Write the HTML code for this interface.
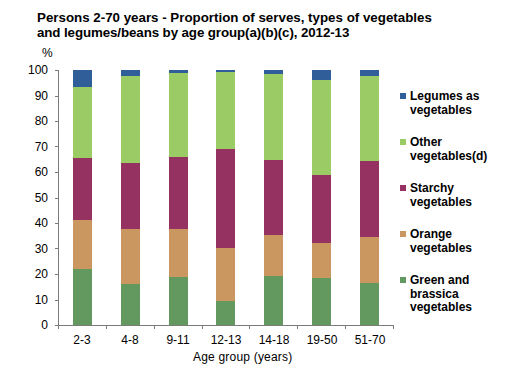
<!DOCTYPE html>
<html><head><meta charset="utf-8"><style>
html,body{margin:0;padding:0;background:#fff;width:509px;height:377px;overflow:hidden}
#c{position:relative;width:509px;height:377px}
#c div{position:absolute}
.t{font-family:"Liberation Sans",sans-serif;color:#000;white-space:nowrap;line-height:15px}
</style></head><body><div id="c">
<div style="left:73px;top:70px;width:19px;height:17px;background:#2F5E99"></div><div style="left:73px;top:87px;width:19px;height:71px;background:#9BCB64"></div><div style="left:73px;top:158px;width:19px;height:62px;background:#963262"></div><div style="left:73px;top:220px;width:19px;height:49px;background:#C9975F"></div><div style="left:73px;top:269px;width:19px;height:56px;background:#63985F"></div><div style="left:121px;top:70px;width:19px;height:6px;background:#2F5E99"></div><div style="left:121px;top:76px;width:19px;height:87px;background:#9BCB64"></div><div style="left:121px;top:163px;width:19px;height:66px;background:#963262"></div><div style="left:121px;top:229px;width:19px;height:55px;background:#C9975F"></div><div style="left:121px;top:284px;width:19px;height:41px;background:#63985F"></div><div style="left:169px;top:70px;width:19px;height:3px;background:#2F5E99"></div><div style="left:169px;top:73px;width:19px;height:84px;background:#9BCB64"></div><div style="left:169px;top:157px;width:19px;height:72px;background:#963262"></div><div style="left:169px;top:229px;width:19px;height:48px;background:#C9975F"></div><div style="left:169px;top:277px;width:19px;height:48px;background:#63985F"></div><div style="left:216px;top:70px;width:19px;height:2px;background:#2F5E99"></div><div style="left:216px;top:72px;width:19px;height:77px;background:#9BCB64"></div><div style="left:216px;top:149px;width:19px;height:99px;background:#963262"></div><div style="left:216px;top:248px;width:19px;height:53px;background:#C9975F"></div><div style="left:216px;top:301px;width:19px;height:24px;background:#63985F"></div><div style="left:264px;top:70px;width:19px;height:4px;background:#2F5E99"></div><div style="left:264px;top:74px;width:19px;height:86px;background:#9BCB64"></div><div style="left:264px;top:160px;width:19px;height:75px;background:#963262"></div><div style="left:264px;top:235px;width:19px;height:41px;background:#C9975F"></div><div style="left:264px;top:276px;width:19px;height:49px;background:#63985F"></div><div style="left:312px;top:70px;width:19px;height:10px;background:#2F5E99"></div><div style="left:312px;top:80px;width:19px;height:95px;background:#9BCB64"></div><div style="left:312px;top:175px;width:19px;height:68px;background:#963262"></div><div style="left:312px;top:243px;width:19px;height:35px;background:#C9975F"></div><div style="left:312px;top:278px;width:19px;height:47px;background:#63985F"></div><div style="left:360px;top:70px;width:19px;height:6px;background:#2F5E99"></div><div style="left:360px;top:76px;width:19px;height:85px;background:#9BCB64"></div><div style="left:360px;top:161px;width:19px;height:76px;background:#963262"></div><div style="left:360px;top:237px;width:19px;height:46px;background:#C9975F"></div><div style="left:360px;top:283px;width:19px;height:42px;background:#63985F"></div><div style="left:58px;top:70px;width:1px;height:259px;background:#7B7B7B"></div><div style="left:55px;top:70px;width:3px;height:1px;background:#7B7B7B"></div><div style="left:55px;top:96px;width:3px;height:1px;background:#7B7B7B"></div><div style="left:55px;top:121px;width:3px;height:1px;background:#7B7B7B"></div><div style="left:55px;top:146px;width:3px;height:1px;background:#7B7B7B"></div><div style="left:55px;top:172px;width:3px;height:1px;background:#7B7B7B"></div><div style="left:55px;top:198px;width:3px;height:1px;background:#7B7B7B"></div><div style="left:55px;top:223px;width:3px;height:1px;background:#7B7B7B"></div><div style="left:55px;top:248px;width:3px;height:1px;background:#7B7B7B"></div><div style="left:55px;top:274px;width:3px;height:1px;background:#7B7B7B"></div><div style="left:55px;top:300px;width:3px;height:1px;background:#7B7B7B"></div><div style="left:55px;top:325px;width:3px;height:1px;background:#7B7B7B"></div><div style="left:58px;top:325px;width:336px;height:1px;background:#7B7B7B"></div><div style="left:58px;top:325px;width:1px;height:4px;background:#7B7B7B"></div><div style="left:106px;top:325px;width:1px;height:4px;background:#7B7B7B"></div><div style="left:154px;top:325px;width:1px;height:4px;background:#7B7B7B"></div><div style="left:202px;top:325px;width:1px;height:4px;background:#7B7B7B"></div><div style="left:249px;top:325px;width:1px;height:4px;background:#7B7B7B"></div><div style="left:297px;top:325px;width:1px;height:4px;background:#7B7B7B"></div><div style="left:345px;top:325px;width:1px;height:4px;background:#7B7B7B"></div><div style="left:393px;top:325px;width:1px;height:4px;background:#7B7B7B"></div><div style="left:400px;top:93px;width:6px;height:6px;background:#2F5E99"></div><div style="left:400px;top:139px;width:6px;height:6px;background:#9BCB64"></div><div style="left:400px;top:185px;width:6px;height:6px;background:#963262"></div><div style="left:400px;top:231px;width:6px;height:6px;background:#C9975F"></div><div style="left:400px;top:277px;width:6px;height:6px;background:#63985F"></div>
<div class="t" style="left:0px;top:63px;font-size:12px;font-weight:normal;width:48px;text-align:right;">100</div><div class="t" style="left:0px;top:89px;font-size:12px;font-weight:normal;width:48px;text-align:right;">90</div><div class="t" style="left:0px;top:114px;font-size:12px;font-weight:normal;width:48px;text-align:right;">80</div><div class="t" style="left:0px;top:140px;font-size:12px;font-weight:normal;width:48px;text-align:right;">70</div><div class="t" style="left:0px;top:165px;font-size:12px;font-weight:normal;width:48px;text-align:right;">60</div><div class="t" style="left:0px;top:191px;font-size:12px;font-weight:normal;width:48px;text-align:right;">50</div><div class="t" style="left:0px;top:216px;font-size:12px;font-weight:normal;width:48px;text-align:right;">40</div><div class="t" style="left:0px;top:242px;font-size:12px;font-weight:normal;width:48px;text-align:right;">30</div><div class="t" style="left:0px;top:267px;font-size:12px;font-weight:normal;width:48px;text-align:right;">20</div><div class="t" style="left:0px;top:293px;font-size:12px;font-weight:normal;width:48px;text-align:right;">10</div><div class="t" style="left:0px;top:318px;font-size:12px;font-weight:normal;width:48px;text-align:right;">0</div><div class="t" style="left:42px;top:46px;font-size:12px;font-weight:normal;">%</div><div class="t" style="left:52px;top:333px;font-size:12px;font-weight:normal;width:60px;text-align:center;">2-3</div><div class="t" style="left:100px;top:333px;font-size:12px;font-weight:normal;width:60px;text-align:center;">4-8</div><div class="t" style="left:148px;top:333px;font-size:12px;font-weight:normal;width:60px;text-align:center;">9-11</div><div class="t" style="left:196px;top:333px;font-size:12px;font-weight:normal;width:60px;text-align:center;">12-13</div><div class="t" style="left:244px;top:333px;font-size:12px;font-weight:normal;width:60px;text-align:center;">14-18</div><div class="t" style="left:292px;top:333px;font-size:12px;font-weight:normal;width:60px;text-align:center;">19-50</div><div class="t" style="left:340px;top:333px;font-size:12px;font-weight:normal;width:60px;text-align:center;">51-70</div><div class="t" style="left:193px;top:350px;font-size:12px;font-weight:normal;"><span style="letter-spacing:0.2px">Age group (years)</span></div><div class="t" style="left:37px;top:9.5px;font-size:13.33px;font-weight:bold;line-height:15px">Persons 2-70 years - Proportion of serves, types of vegetables<br><span style="letter-spacing:-0.1px">and legumes/beans by age group(a)(b)(c), 2012-13</span></div><div class="t" style="left:410px;top:90px;font-size:12px;font-weight:bold;line-height:13.7px">Legumes as<br>vegetables</div><div class="t" style="left:410px;top:136px;font-size:12px;font-weight:bold;line-height:13.7px">Other<br>vegetables(d)</div><div class="t" style="left:410px;top:182px;font-size:12px;font-weight:bold;line-height:13.7px">Starchy<br>vegetables</div><div class="t" style="left:410px;top:228px;font-size:12px;font-weight:bold;line-height:13.7px">Orange<br>vegetables</div><div class="t" style="left:410px;top:274px;font-size:12px;font-weight:bold;line-height:13.7px">Green and<br>brassica<br>vegetables</div>
</div></body></html>
